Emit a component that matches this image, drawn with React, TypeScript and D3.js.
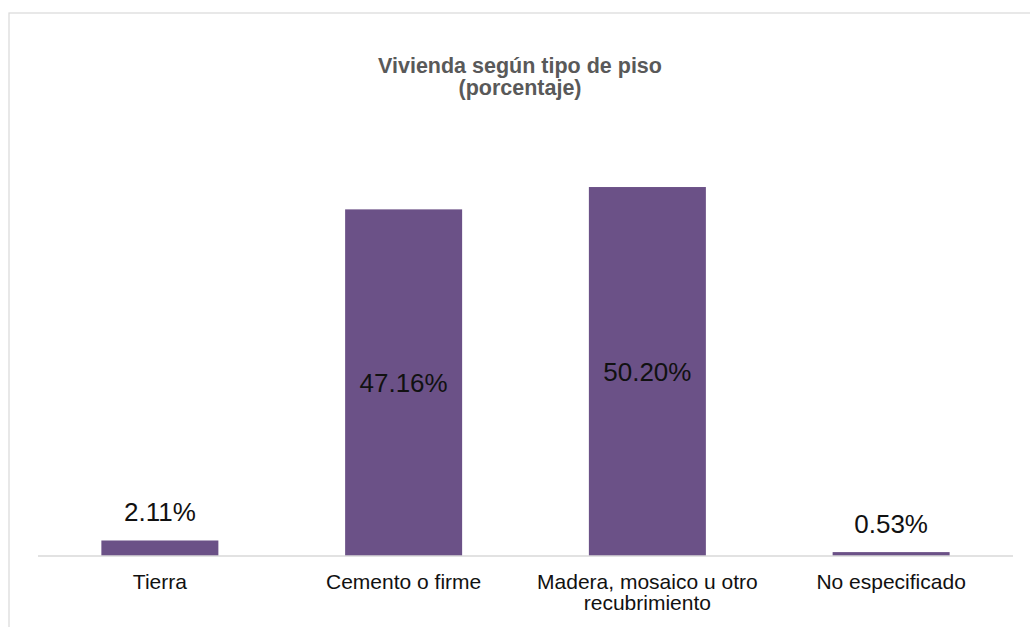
import React from 'react';
import * as d3 from 'd3';

const categories = ['Tierra', 'Cemento o firme', 'Madera, mosaico u otro recubrimiento', 'No especificado'];
const categoryLines = [['Tierra'], ['Cemento o firme'], ['Madera, mosaico u otro', 'recubrimiento']];
const values = [2.11, 47.16, 50.2, 0.53];
const titleLines = ['Vivienda según tipo de piso', '(porcentaje)'];

const WIDTH = 1030;
const HEIGHT = 627;
const FONT = '"Liberation Sans", Arial, sans-serif';
const BAR_COLOR = '#6b5187';

const App: React.FC = () => {
  const margin = { top: 115, right: 17, bottom: 71, left: 38 };

  const x = d3.scaleBand()
    .domain(categories)
    .range([margin.left, WIDTH - margin.right])
    .paddingInner(0.52)
    .paddingOuter(0.26);

  const y = d3.scaleLinear()
    .domain([0, 60])
    .range([HEIGHT - margin.bottom, margin.top]);

  const base = y(0);

  return (
    <svg
      width={WIDTH}
      height={HEIGHT}
      style={{ position: 'absolute', left: 0, top: 0, background: '#fff' }}
      fontFamily={FONT}
    >
      {/* chart frame, cropped at right and bottom */}
      <rect x={9} y={13} width={WIDTH + 20} height={HEIGHT + 20} fill="none" stroke="#d9d9d9" strokeWidth={1.2} />

      {/* title */}
      <text textAnchor="middle" fill="#595959" fontWeight="bold" fontSize={21.5}>
        {titleLines.map((t, i) => (
          <tspan key={t} x={520} y={73 + i * 22}>{t}</tspan>
        ))}
      </text>

      {/* bars */}
      {categories.map((c, i) => (
        <rect
          key={c}
          x={x(c)}
          y={y(values[i])}
          width={x.bandwidth()}
          height={base - y(values[i])}
          fill={BAR_COLOR}
        />
      ))}

      {/* axis line */}
      <line x1={margin.left} x2={WIDTH - margin.right} y1={base} y2={base} stroke="#d9d9d9" strokeWidth={1.5} />

      {/* data labels */}
      {categories.map((c, i) => {
        const top = y(values[i]);
        const inside = base - top > 60;
        const ly = inside ? (top + base) / 2 + 9 : top - 19;
        return (
          <text
            key={c}
            x={(x(c) ?? 0) + x.bandwidth() / 2}
            y={ly}
            textAnchor="middle"
            fontSize={26}
            fill="#111"
          >
            {values[i].toFixed(2)}%
          </text>
        );
      })}

      {/* category labels */}
      {categories.map((c, i) => {
        const lines = categoryLines[i] ?? [c];
        return (
          <text key={c} textAnchor="middle" fontSize={21} fill="#111">
            {lines.map((l, j) => (
              <tspan key={l} x={(x(c) ?? 0) + x.bandwidth() / 2} y={base + 33 + j * 21}>{l}</tspan>
            ))}
          </text>
        );
      })}
    </svg>
  );
};

export default App;
